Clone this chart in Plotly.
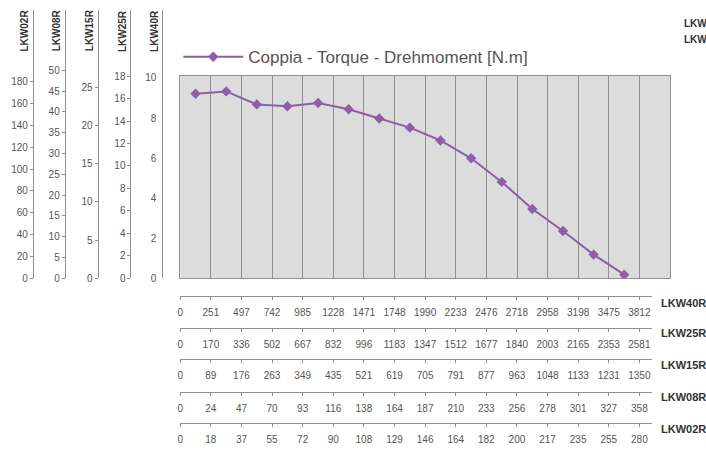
import plotly.graph_objects as go

# ---------------- data ----------------
motor_names = ["LKW40R", "LKW25R", "LKW15R", "LKW08R", "LKW02R"]

speed_lkw40r = [0, 251, 497, 742, 985, 1228, 1471, 1748, 1990, 2233, 2476, 2718, 2958, 3198, 3475, 3812]
speed_lkw25r = [0, 170, 336, 502, 667, 832, 996, 1183, 1347, 1512, 1677, 1840, 2003, 2165, 2353, 2581]
speed_lkw15r = [0, 89, 176, 263, 349, 435, 521, 619, 705, 791, 877, 963, 1048, 1133, 1231, 1350]
speed_lkw08r = [0, 24, 47, 70, 93, 116, 138, 164, 187, 210, 233, 256, 278, 301, 327, 358]
speed_lkw02r = [0, 18, 37, 55, 72, 90, 108, 129, 146, 164, 182, 200, 217, 235, 255, 280]

# torque read on the LKW40R scale (N.m)
torque_lkw40r = [9.21, 9.33, 8.68, 8.59, 8.75, 8.44, 7.98, 7.52, 6.88, 5.99, 4.81, 3.46, 2.36, 1.18, 0.18]

ticks_lkw02r = [0, 20, 40, 60, 80, 100, 120, 140, 160, 180]
ticks_lkw08r = [0, 5, 10, 15, 20, 25, 30, 35, 40, 45, 50]
ticks_lkw15r = [0, 5, 10, 15, 20, 25]
ticks_lkw25r = [0, 2, 4, 6, 8, 10, 12, 14, 16, 18]
ticks_lkw40r = [0, 2, 4, 6, 8, 10]

series_name = "Coppia - Torque - Drehmoment [N.m]"

# ---------------- layout helpers ----------------
W, H = 706, 450
def fx(p):
    return p / W
def fy(p):
    return 1 - p / H

FONT = "Liberation Sans, Arial, sans-serif"
TICK_COL = "#555555"
LINE_COL = "#8f8f8f"
TITLE_COL = "#333333"
PURPLE = "#8e5ea9"

fig = go.Figure()

# main torque line (cell centres)
cell_pos = [i + 0.5 for i in range(len(torque_lkw40r))]
fig.add_trace(go.Scatter(
    x=cell_pos, y=torque_lkw40r, mode="lines+markers", name=series_name,
    line=dict(color=PURPLE, width=2),
    marker=dict(symbol="diamond", size=8, color=PURPLE),
    xaxis="x", yaxis="y", showlegend=True,
))

# dummy traces so the extra axes are drawn
for i in range(2, 7):
    fig.add_trace(go.Scatter(x=[None], y=[None], xaxis=f"x{i}", yaxis="y7",
                             showlegend=False, hoverinfo="skip"))
    fig.add_trace(go.Scatter(x=[None], y=[None], xaxis="x7", yaxis=f"y{i}",
                             showlegend=False, hoverinfo="skip"))

layout = dict(
    width=W, height=H,
    margin=dict(l=0, r=0, t=0, b=0),
    paper_bgcolor="white",
    plot_bgcolor="rgba(0,0,0,0)",
    font=dict(family=FONT, color=TICK_COL, size=10),
    showlegend=True,
    legend=dict(x=fx(176), y=fy(58), xanchor="left", yanchor="middle",
                itemwidth=60, bgcolor="rgba(0,0,0,0)",
                font=dict(family=FONT, size=17, color="#555555")),
)

# main plot axes
layout["xaxis"] = dict(domain=[fx(178), fx(670)], range=[0, 16], tick0=0, dtick=1,
                       showticklabels=False, ticks="", showgrid=True,
                       gridcolor=LINE_COL, gridwidth=1, zeroline=False,
                       showline=True, mirror=True, linecolor=LINE_COL, linewidth=1)
layout["yaxis"] = dict(domain=[fy(282), fy(77)], range=[0, 10.1],
                       showticklabels=False, ticks="", showgrid=False, zeroline=False,
                       showline=True, mirror=True, linecolor=LINE_COL, linewidth=1)

# bottom speed axes
bottom_speeds = [speed_lkw40r, speed_lkw25r, speed_lkw15r, speed_lkw08r, speed_lkw02r]
bottom_line_y = [300, 332, 364, 397, 429]
bottom_label_y = [307, 338, 370, 402, 435]
for k, (speeds, ly) in enumerate(zip(bottom_speeds, bottom_line_y)):
    layout[f"xaxis{k + 2}"] = dict(
        domain=[fx(178), fx(652)], range=[0, 15.42], anchor="free", position=fy(ly),
        tickvals=list(range(len(speeds))), ticktext=[str(v) for v in speeds],
        ticks="outside", ticklen=3, tickcolor=LINE_COL, ticklabelstandoff=4,
        showline=True, linecolor=LINE_COL, linewidth=1, showgrid=False, zeroline=False,
        tickfont=dict(family=FONT, size=10, color=TICK_COL))
layout["yaxis7"] = dict(domain=[0, 0.01], range=[0, 1], visible=False)

# left torque axes
left_ticks = [ticks_lkw02r, ticks_lkw08r, ticks_lkw15r, ticks_lkw25r, ticks_lkw40r]
left_names = ["LKW02R", "LKW08R", "LKW15R", "LKW25R", "LKW40R"]
left_pos = [30, 62, 95, 128, 160]
left_top = [246, 64.5, 35.2, 23.9, 13.4]
for k, (tv, xp, top) in enumerate(zip(left_ticks, left_pos, left_top)):
    is40 = left_names[k] == "LKW40R"
    layout[f"yaxis{k + 2}"] = dict(
        domain=[fy(282), fy(10)], range=[0, top], anchor="free", position=fx(xp),
        side="left", tickvals=tv, ticktext=[str(v) for v in tv],
        ticks="" if is40 else "outside", ticklen=3, tickcolor=LINE_COL,
        ticklabelstandoff=4 if is40 else 0,
        showline=True, linecolor=LINE_COL, linewidth=1, showgrid=False, zeroline=False,
        tickfont=dict(family=FONT, size=10, color=TICK_COL))
layout["xaxis7"] = dict(domain=[0, 0.01], range=[0, 1], visible=False)

annotations = []
for name, xp in zip(left_names, left_pos):
    annotations.append(dict(text=f"<b>{name}</b>", x=fx(xp - 8), y=fy(31),
                            xref="paper", yref="paper", xanchor="center", yanchor="middle",
                            textangle=-90, showarrow=False,
                            font=dict(family=FONT, size=10, color=TITLE_COL)))
for name, ly in zip(motor_names, bottom_label_y):
    annotations.append(dict(text=f"<b>{name}</b>", x=fx(659), y=fy(ly),
                            xref="paper", yref="paper", xanchor="left", yanchor="middle",
                            showarrow=False,
                            font=dict(family=FONT, size=11, color=TITLE_COL)))
for ly in [24, 40]:
    annotations.append(dict(text="<b>LKW</b>", x=fx(682), y=fy(ly),
                            xref="paper", yref="paper", xanchor="left", yanchor="middle",
                            showarrow=False,
                            font=dict(family=FONT, size=10, color=TITLE_COL)))
layout["annotations"] = annotations

layout["shapes"] = [dict(type="rect", xref="x domain", yref="y domain",
                         x0=0, x1=1, y0=0, y1=1, fillcolor="#dcdcdc",
                         line=dict(width=0), layer="below")]

fig.update_layout(**layout)
fig.write_html("out.html", config={"displayModeBar": False},
               post_script="document.body.style.margin='0px';")
